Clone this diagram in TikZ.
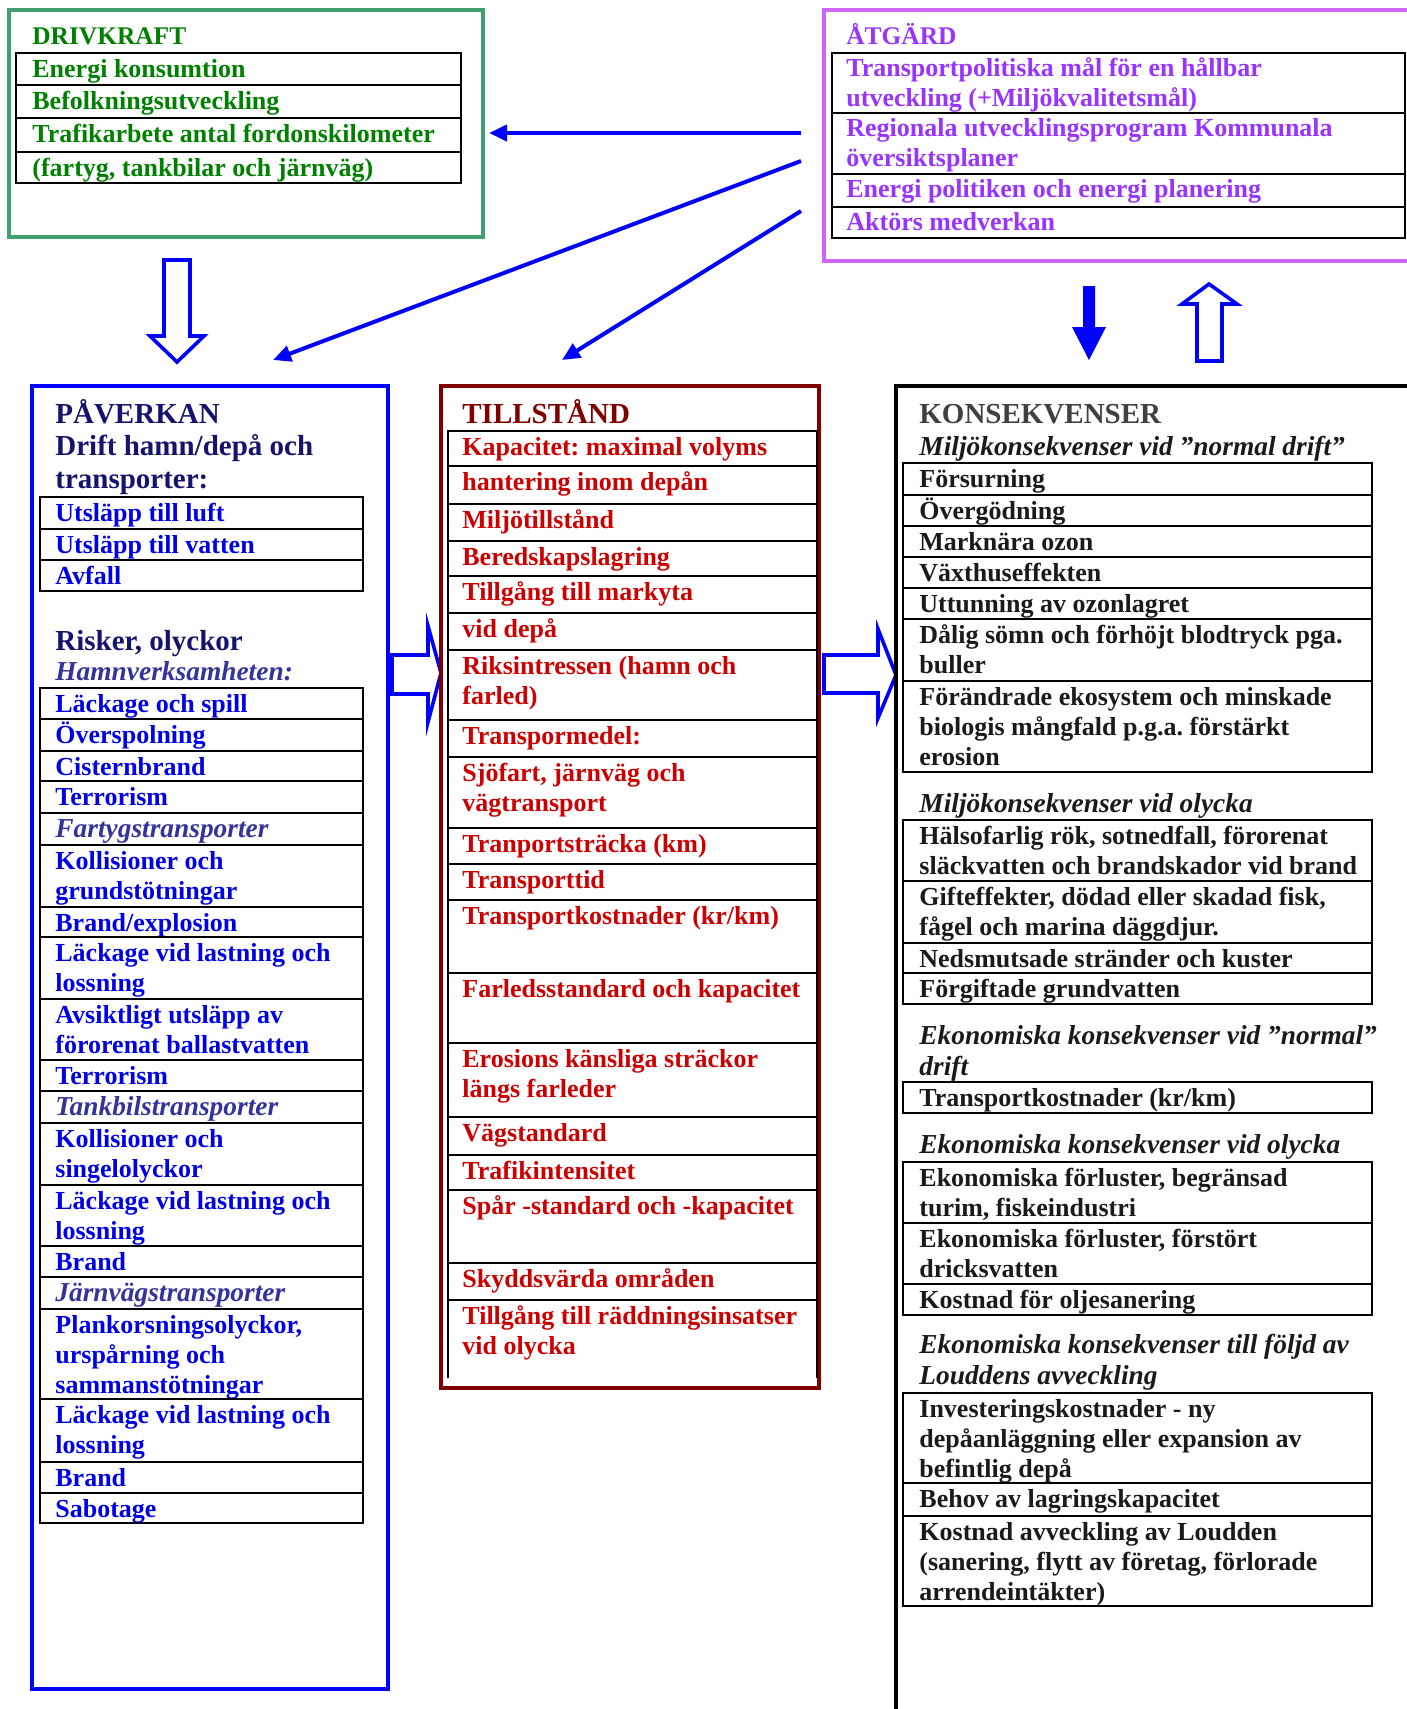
\documentclass[tikz,border=0pt]{standalone}
\usepackage{fontspec}
\setmainfont{Liberation Serif}
\usetikzlibrary{arrows.meta}
\frenchspacing
\definecolor{drvframe}{RGB}{64,160,112}
\definecolor{drvtext}{RGB}{0,128,0}
\definecolor{atgframe}{RGB}{204,102,255}
\definecolor{atgtext}{RGB}{153,51,255}
\definecolor{pavblue}{RGB}{0,0,255}
\definecolor{pavhead}{RGB}{20,20,110}
\definecolor{pavitem}{RGB}{0,0,230}
\definecolor{pavsub}{RGB}{51,51,153}
\definecolor{tilframe}{RGB}{128,0,0}
\definecolor{tiltext}{RGB}{204,0,0}
\definecolor{konhead}{RGB}{64,64,64}
\definecolor{kontext}{RGB}{26,26,26}
% text block whose baseline is the baseline of its first line
\newcommand\tx[1]{\parbox[t]{300pt}{#1}}
\newcommand\pvrow[5]{\draw[cell] (40,#2) rectangle (363,#3);
  \node[#4] (#1) at (55,{#2+24}) {\tx{#5}};}
\newcommand\tlrow[4]{\draw[cell] (448,#2) rectangle (817,#3);
  \node[txt,text=tiltext] (#1) at (462,{#2+24}) {\tx{#4}};}
\newcommand\knrow[4]{\draw[cell] (903,#2) rectangle (1372,#3);
  \node[txt,text=kontext] (#1) at (919,{#2+24}) {\tx{#4}};}
\newcommand\drrow[4]{\draw[cell] (16,#2) rectangle (461,#3);
  \node[txt,text=drvtext] (#1) at (32,{#2+24}) {\tx{#4}};}
\newcommand\atrow[4]{\draw[cell] (832,#2) rectangle (1405,#3);
  \node[txt,text=atgtext] (#1) at (846,{#2+23}) {\tx{#4}};}
\begin{document}
\begin{tikzpicture}[x=0.5pt,y=-0.5pt,
  cell/.style={draw=black,line width=1.1pt},
  frame/.style={line width=1.8pt},
  txt/.style={anchor=base west,inner sep=0pt,
     font=\fontsize{13pt}{15pt}\selectfont\bfseries},
  itx/.style={txt,font=\fontsize{13.7pt}{15.5pt}\selectfont\bfseries\itshape},
  head/.style={txt,font=\fontsize{14.5pt}{16.5pt}\selectfont\bfseries},
  smallhead/.style={txt,font=\fontsize{12.7pt}{15pt}\selectfont\bfseries},
  conn/.style={draw=pavblue,line width=2pt,-{Triangle[length=9pt,width=8pt]}},
  blockarrow/.style={draw=pavblue,line width=1.8pt,fill=white},
]
\useasboundingbox (0,0) rectangle (1407,1709);

% ---------------- DRIVKRAFT
\draw[frame,drvframe] (9,10) rectangle (483,237);
\node[smallhead,text=drvtext] (drvtitle) at (32,44) {DRIVKRAFT};
\drrow{d1}{53}{85}{Energi konsumtion}
\drrow{d2}{85}{118}{Befolkningsutveckling}
\drrow{d3}{118}{152}{Trafikarbete antal fordonskilometer}
\drrow{d4}{152}{183}{(fartyg, tankbilar och järnväg)}

% ---------------- ÅTGÄRD
\draw[frame,atgframe] (824,10) rectangle (1430,261);
\node[smallhead,text=atgtext] (atgtitle) at (846,44) {ÅTGÄRD};
\atrow{a1}{53}{113}{Transportpolitiska mål för en hållbar\\utveckling (+Miljökvalitetsmål)}
\atrow{a2}{113}{174}{Regionala utvecklingsprogram Kommunala\\översiktsplaner}
\atrow{a3}{174}{207}{Energi politiken och energi planering}
\atrow{a4}{207}{238}{Aktörs medverkan}

% ---------------- arrows from ÅTGÄRD
\coordinate (c1s) at (801,133); \coordinate (c1e) at (489,133);
\coordinate (c2s) at (801,161); \coordinate (c2e) at (273,360);
\coordinate (c3s) at (801,211); \coordinate (c3e) at (562,360);
\draw[conn] (c1s) -- (c1e);
\draw[conn] (c2s) -- (c2e);
\draw[conn] (c3s) -- (c3e);

% block arrows
\draw[blockarrow] (164,260) -- (190,260) -- (190,336) -- (204,336) -- (177,362) -- (150,336) -- (164,336) -- cycle;
\fill[pavblue] (1083,286) -- (1095,286) -- (1095,327) -- (1106,327) -- (1089,360) -- (1072,327) -- (1083,327) -- cycle;
\draw[blockarrow] (1197,361) -- (1197,304) -- (1182,304) -- (1209,284) -- (1237,304) -- (1222,304) -- (1222,361) -- cycle;
\draw[blockarrow] (392,655) -- (428,655) -- (428,626) -- (441,673) -- (428,722) -- (428,694) -- (392,694) -- cycle;
\draw[blockarrow] (824,655) -- (878,655) -- (878,629) -- (896,675) -- (878,718) -- (878,693) -- (824,693) -- cycle;

% ---------------- PÅVERKAN
\draw[frame,pavblue] (32,386) rectangle (388,1689);
\node[head,text=pavhead] (pavtitle) at (55,423) {PÅVERKAN};
\node[head,text=pavhead] (pavdrift) at (55,455) {\tx{Drift hamn/depå och\\transporter:}};
\pvrow{p1}{497}{529}{{txt,text=pavitem}}{Utsläpp till luft}
\pvrow{p2}{529}{560}{{txt,text=pavitem}}{Utsläpp till vatten}
\pvrow{p3}{560}{591}{{txt,text=pavitem}}{Avfall}
\node[head,text=pavhead] (pavrisk) at (55,650) {Risker, olyckor};
\node[itx,text=pavsub] (pavhamn) at (55,680) {Hamnverksamheten:};
\pvrow{p4}{688}{719}{{txt,text=pavitem}}{Läckage och spill}
\pvrow{p5}{719}{751}{{txt,text=pavitem}}{Överspolning}
\pvrow{p6}{751}{781}{{txt,text=pavitem}}{Cisternbrand}
\pvrow{p7}{781}{813}{{txt,text=pavitem}}{Terrorism}
\pvrow{p8}{813}{845}{{itx,text=pavsub}}{Fartygstransporter}
\pvrow{p9}{845}{907}{{txt,text=pavitem}}{Kollisioner och\\grundstötningar}
\pvrow{p10}{907}{937}{{txt,text=pavitem}}{Brand/explosion}
\pvrow{p11}{937}{999}{{txt,text=pavitem}}{Läckage vid lastning och\\lossning}
\pvrow{p12}{999}{1060}{{txt,text=pavitem}}{Avsiktligt utsläpp av\\förorenat ballastvatten}
\pvrow{p13}{1060}{1091}{{txt,text=pavitem}}{Terrorism}
\pvrow{p14}{1091}{1123}{{itx,text=pavsub}}{Tankbilstransporter}
\pvrow{p15}{1123}{1185}{{txt,text=pavitem}}{Kollisioner och\\singelolyckor}
\pvrow{p16}{1185}{1246}{{txt,text=pavitem}}{Läckage vid lastning och\\lossning}
\pvrow{p17}{1246}{1277}{{txt,text=pavitem}}{Brand}
\pvrow{p18}{1277}{1309}{{itx,text=pavsub}}{Järnvägstransporter}
\pvrow{p19}{1309}{1399}{{txt,text=pavitem}}{Plankorsningsolyckor,\\urspårning och\\sammanstötningar}
\pvrow{p20}{1399}{1462}{{txt,text=pavitem}}{Läckage vid lastning och\\lossning}
\pvrow{p21}{1462}{1493}{{txt,text=pavitem}}{Brand}
\pvrow{p22}{1493}{1523}{{txt,text=pavitem}}{Sabotage}

% ---------------- TILLSTÅND
\draw[frame,tilframe] (441,386) rectangle (819,1388);
\node[head,text=tilframe] (tiltitle) at (462,423) {TILLSTÅND};
\tlrow{t1}{431}{466}{Kapacitet: maximal volyms}
\tlrow{t2}{466}{504}{hantering inom depån}
\tlrow{t3}{504}{541}{Miljötillstånd}
\tlrow{t4}{541}{576}{Beredskapslagring}
\tlrow{t5}{576}{613}{Tillgång till markyta}
\tlrow{t6}{613}{650}{vid depå}
\tlrow{t7}{650}{720}{Riksintressen (hamn och\\farled)}
\tlrow{t8}{720}{757}{Transpormedel:}
\tlrow{t9}{757}{828}{Sjöfart, järnväg och\\vägtransport}
\tlrow{t10}{828}{864}{Tranportsträcka (km)}
\tlrow{t11}{864}{900}{Transporttid}
\tlrow{t12}{900}{973}{Transportkostnader (kr/km)}
\tlrow{t13}{973}{1043}{Farledsstandard och kapacitet}
\tlrow{t14}{1043}{1117}{Erosions känsliga sträckor\\längs farleder}
\tlrow{t15}{1117}{1155}{Vägstandard}
\tlrow{t16}{1155}{1190}{Trafikintensitet}
\tlrow{t17}{1190}{1263}{Spår -standard och -kapacitet}
\tlrow{t18}{1263}{1300}{Skyddsvärda områden}
\draw[cell] (448,1378) -- (448,1300) -- (817,1300) -- (817,1378);
\node[txt,text=tiltext] (t19) at (462,1324) {\tx{Tillgång till räddningsinsatser\\vid olycka}};

% ---------------- KONSEKVENSER
\draw[frame,black] (896,1730) -- (896,386) -- (1430,386);
\node[head,text=konhead] (kontitle) at (919,423) {KONSEKVENSER};
\node[itx,text=kontext] (kh1) at (919,455) {Miljökonsekvenser vid ”normal drift”};
\knrow{k1}{463}{495}{Försurning}
\knrow{k2}{495}{526}{Övergödning}
\knrow{k3}{526}{557}{Marknära ozon}
\knrow{k4}{557}{588}{Växthuseffekten}
\knrow{k5}{588}{619}{Uttunning av ozonlagret}
\knrow{k6}{619}{681}{Dålig sömn och förhöjt blodtryck pga.\\buller}
\knrow{k7}{681}{772}{Förändrade ekosystem och minskade\\biologis mångfald p.g.a. förstärkt\\erosion}
\node[itx,text=kontext] (kh2) at (919,812) {Miljökonsekvenser vid olycka};
\knrow{k8}{820}{881}{Hälsofarlig rök, sotnedfall, förorenat\\släckvatten och brandskador vid brand}
\knrow{k9}{881}{943}{Gifteffekter, dödad eller skadad fisk,\\fågel och marina däggdjur.}
\knrow{k10}{943}{973}{Nedsmutsade stränder och kuster}
\knrow{k11}{973}{1004}{Förgiftade grundvatten}
\node[itx,text=kontext] (kh3) at (919,1044) {\tx{Ekonomiska konsekvenser vid ”normal”\\drift}};
\knrow{k12}{1082}{1113}{Transportkostnader (kr/km)}
\node[itx,text=kontext] (kh4) at (919,1153) {Ekonomiska konsekvenser vid olycka};
\knrow{k13}{1162}{1223}{Ekonomiska förluster, begränsad\\turim, fiskeindustri}
\knrow{k14}{1223}{1284}{Ekonomiska förluster, förstört\\dricksvatten}
\knrow{k15}{1284}{1315}{Kostnad för oljesanering}
\node[itx,text=kontext] (kh5) at (919,1353) {\tx{Ekonomiska konsekvenser till följd av\\Louddens avveckling}};
\knrow{k16}{1393}{1483}{Investeringskostnader - ny\\depåanläggning eller expansion av\\befintlig depå}
\knrow{k17}{1483}{1516}{Behov av lagringskapacitet}
\knrow{k18}{1516}{1606}{Kostnad avveckling av Loudden\\(sanering, flytt av företag, förlorade\\arrendeintäkter)}
\end{tikzpicture}
\end{document}
